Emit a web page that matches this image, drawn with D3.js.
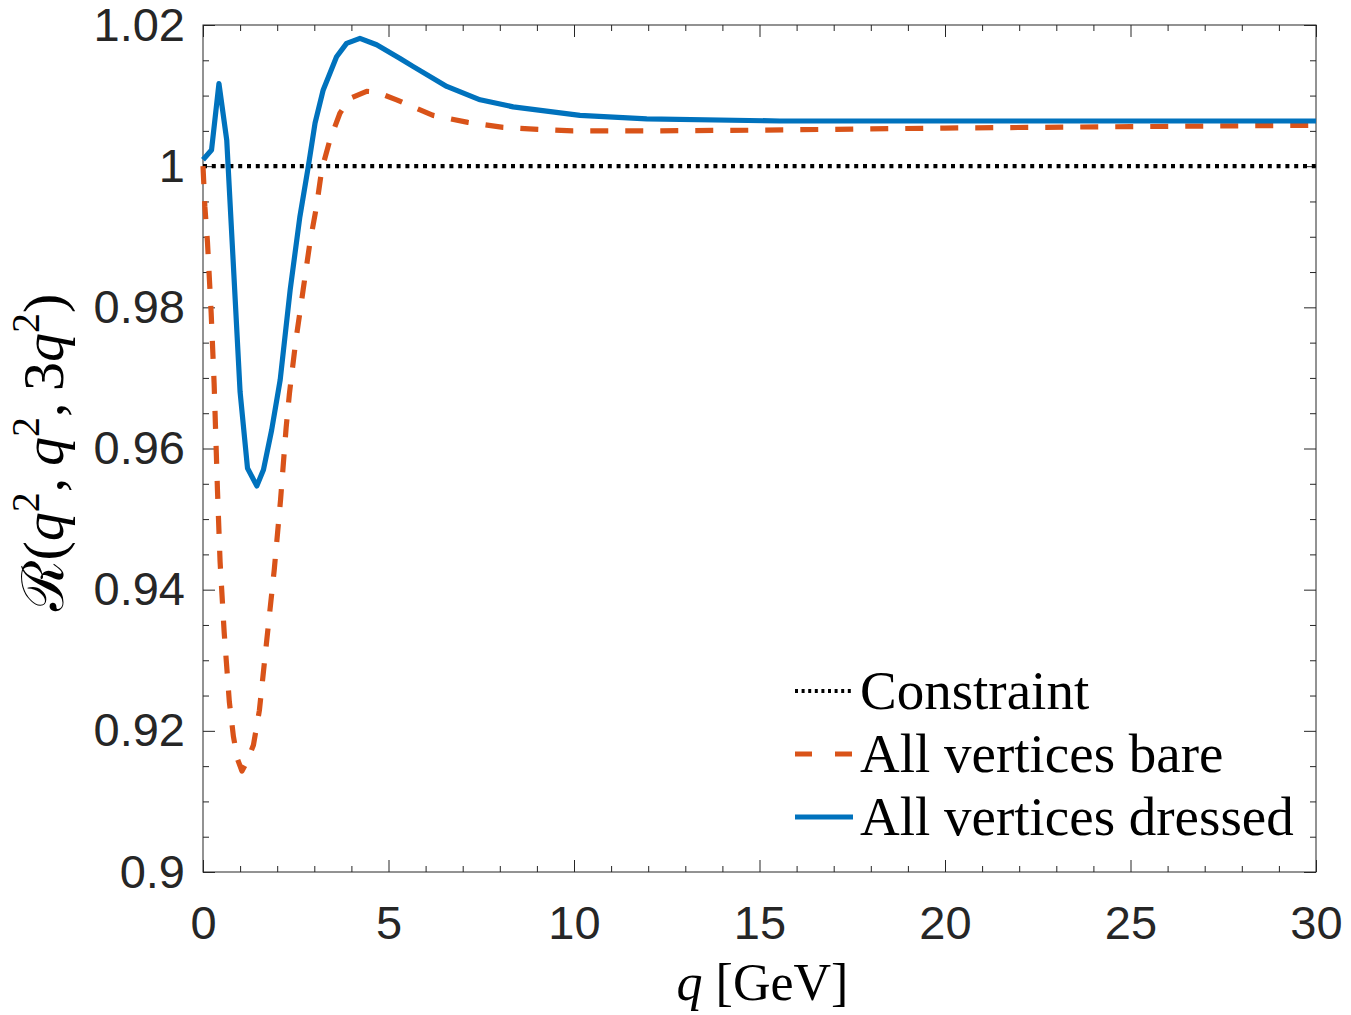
<!DOCTYPE html>
<html>
<head>
<meta charset="utf-8">
<script src="https://cdn.jsdelivr.net/npm/d3@7"></script>
<style>
  body { margin: 0; background: #fff; }
  svg { display: block; }
</style>
</head>
<body>
<div id="chart"></div>
<script>
// values
let dressedQ = [0, 0.23, 0.43, 0.64, 1.0, 1.2, 1.45, 1.63, 1.85, 2.08, 2.35, 2.61, 2.84, 3.02, 3.24,
    3.6, 3.87, 4.23, 4.68, 5.3, 5.67, 6.57, 7.47, 8.36, 10.16, 11.96, 15.55, 20, 25, 30];
let dressedR = [1.0009, 1.0023, 1.0117, 1.0037, 0.9680, 0.9572, 0.9547, 0.9570, 0.9626, 0.9697, 0.9825, 0.9928, 1.0000, 1.0061, 1.0108,
    1.0155, 1.0174, 1.0181, 1.0172, 1.0153, 1.0141, 1.0113, 1.0094, 1.0084, 1.0072, 1.0067, 1.0064, 1.0064, 1.0064, 1.0064];

let bareQ = [0, 0.05, 0.12, 0.22, 0.3, 0.39, 0.46, 0.57, 0.71, 0.82, 0.93, 1.05, 1.2, 1.36, 1.52, 1.72, 1.92, 2.09, 2.24, 2.33,
    2.5, 2.7, 2.88, 3.06, 3.2, 3.42, 3.69, 3.96, 4.41, 4.68, 5.22, 6.2, 7.14, 8.09, 9.03, 9.97, 12, 15, 20, 25, 30];
let bareR = [1.0000, 0.9943, 0.9893, 0.9792, 0.9692, 0.9541, 0.9440, 0.9340, 0.9241, 0.9192, 0.9160, 0.9143, 0.9158, 0.9180, 0.9229, 0.9329, 0.9428, 0.9527, 0.9629, 0.9678,
    0.9752, 0.9825, 0.9891, 0.9943, 0.9995, 1.0037, 1.0075, 1.0096, 1.0106, 1.0105, 1.0094, 1.0072, 1.0062, 1.0055, 1.0052, 1.0050, 1.0050, 1.0051, 1.0054, 1.0056, 1.0058];

let constraintQ = [0, 30];
let constraintR = [1, 1];

let xMajor = [0, 5, 10, 15, 20, 25, 30];
let yMajor = [0.9, 0.92, 0.94, 0.96, 0.98, 1, 1.02];
let yLabels = ["0.9", "0.92", "0.94", "0.96", "0.98", "1", "1.02"];

let legendNames = ["Constraint", "All vertices bare", "All vertices dressed"];

let W = 1351, H = 1015;
let margin = {top: 25, right: 35, bottom: 143, left: 203};
let width = W - margin.left - margin.right;
let height = H - margin.top - margin.bottom;

let axisColor = "#262626";
let tickFont = "'Liberation Sans', Arial, Helvetica, sans-serif";
let serif = "'Liberation Serif', 'Times New Roman', serif";

let svg = d3.select("#chart").append("svg")
    .attr("width", W)
    .attr("height", H)
    .append("g")
    .attr("transform", "translate(" + margin.left + "," + margin.top + ")");

let x = d3.scaleLinear().domain([0, 30]).range([0, width]);
let y = d3.scaleLinear().domain([0.9, 1.02]).range([height, 0]);

let xMinor = d3.range(0, 31, 1).filter(d => d % 5 !== 0);
let yMinor = d3.range(0, 25).map(i => +(0.9 + i * 0.005).toFixed(3)).filter(d => yMajor.indexOf(d) < 0);

function styleAxis(g) {
    g.select(".domain").remove();
    g.selectAll(".tick line").attr("stroke", axisColor).attr("stroke-width", 1);
    g.selectAll(".tick text")
        .attr("fill", axisColor)
        .style("font-family", tickFont)
        .style("font-size", "47px");
}

// bottom / top ticks (inward)
svg.append("g")
    .attr("transform", "translate(0," + height + ")")
    .call(d3.axisBottom(x).tickValues(xMajor).tickSize(-12).tickPadding(34).tickFormat(d3.format("d")))
    .call(styleAxis);
svg.append("g")
    .attr("transform", "translate(0," + height + ")")
    .call(d3.axisBottom(x).tickValues(xMinor).tickSize(-6).tickFormat(""))
    .call(styleAxis);
svg.append("g")
    .call(d3.axisTop(x).tickValues(xMajor).tickSize(-12).tickFormat(""))
    .call(styleAxis);
svg.append("g")
    .call(d3.axisTop(x).tickValues(xMinor).tickSize(-6).tickFormat(""))
    .call(styleAxis);

// left / right ticks
svg.append("g")
    .call(d3.axisLeft(y).tickValues(yMajor).tickSize(-12).tickPadding(18)
        .tickFormat((d, i) => yLabels[i]))
    .call(styleAxis);
svg.append("g")
    .call(d3.axisLeft(y).tickValues(yMinor).tickSize(-6).tickFormat(""))
    .call(styleAxis);
svg.append("g")
    .attr("transform", "translate(" + width + ",0)")
    .call(d3.axisRight(y).tickValues(yMajor).tickSize(-12).tickFormat(""))
    .call(styleAxis);
svg.append("g")
    .attr("transform", "translate(" + width + ",0)")
    .call(d3.axisRight(y).tickValues(yMinor).tickSize(-6).tickFormat(""))
    .call(styleAxis);

// frame
svg.append("rect")
    .attr("x", 0).attr("y", 0)
    .attr("width", width).attr("height", height)
    .attr("fill", "none")
    .attr("stroke", axisColor)
    .attr("stroke-width", 1);

// lines
let series = [
    {name: legendNames[0], q: constraintQ, r: constraintR, color: "#000000", dash: "4,4.8", w: 4.2},
    {name: legendNames[1], q: bareQ, r: bareR, color: "#D95319", dash: "18,17", w: 5.2},
    {name: legendNames[2], q: dressedQ, r: dressedR, color: "#0072BD", dash: null, w: 5.2}
];

let line = d3.line()
    .x(d => x(d[0]))
    .y(d => y(d[1]));

let plot = svg.append("g");
series.forEach(function (s) {
    let pts = s.q.map((q, i) => [q, s.r[i]]);
    plot.append("path")
        .datum(pts)
        .attr("d", line)
        .attr("fill", "none")
        .attr("stroke", s.color)
        .attr("stroke-width", s.w)
        .attr("stroke-linejoin", "round")
        .attr("stroke-dasharray", s.dash);
});

// legend
let legend = svg.append("g")
    .attr("transform", "translate(" + (795 - margin.left) + "," + (691 - margin.top) + ")");
series.forEach(function (s, i) {
    let gy = i * 63;
    legend.append("line")
        .attr("x1", 0).attr("x2", 58)
        .attr("y1", gy).attr("y2", gy)
        .attr("stroke", s.color)
        .attr("stroke-width", s.w)
        .attr("stroke-dasharray", s.dash ? (i === 1 ? "17,23" : "3,3.6") : null);
    legend.append("text")
        .attr("x", 65)
        .attr("y", gy + 18)
        .style("font-family", serif)
        .style("font-size", "55px")
        .attr("fill", "#000")
        .text(s.name);
});

// axis labels
let xl = svg.append("text")
    .attr("x", width / 2 + 3)
    .attr("y", height + 128)
    .attr("text-anchor", "middle")
    .style("font-family", serif)
    .style("font-size", "52px")
    .attr("fill", "#000");
xl.append("tspan").style("font-style", "italic").text("q");
xl.append("tspan").text(" [GeV]");

let yl = svg.append("text")
    .attr("transform", "translate(" + (-140) + "," + (height / 2 + 4) + ") rotate(-90)")
    .attr("text-anchor", "middle")
    .style("font-family", serif)
    .style("font-size", "58px")
    .attr("fill", "#000");
yl.append("tspan").text("\u211B(");
yl.append("tspan").style("font-style", "italic").text("q");
yl.append("tspan").attr("dy", -24).style("font-size", "40px").text("2");
yl.append("tspan").attr("dy", 24).text(",\u2009");
yl.append("tspan").style("font-style", "italic").text("q");
yl.append("tspan").attr("dy", -24).style("font-size", "40px").text("2");
yl.append("tspan").attr("dy", 24).text(",\u20093");
yl.append("tspan").style("font-style", "italic").text("q");
yl.append("tspan").attr("dy", -24).style("font-size", "40px").text("2");
yl.append("tspan").attr("dy", 24).text(")");
</script>
</body>
</html>
